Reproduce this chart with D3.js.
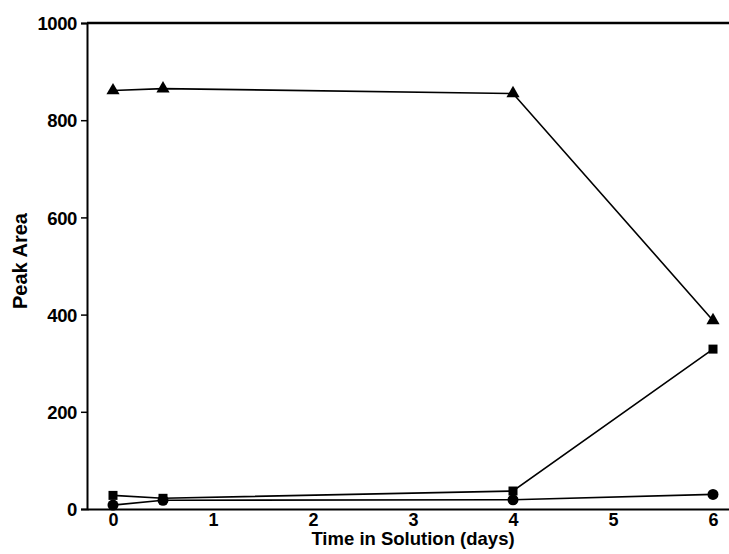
<!DOCTYPE html>
<html>
<head>
<meta charset="utf-8">
<script src="https://cdn.jsdelivr.net/npm/d3@7"></script>
<style>
  body { margin: 0; background: #fff; }
  text { font-family: "Liberation Sans", Arial, sans-serif; font-weight: bold; fill: #000; }
</style>
</head>
<body>
<div id="chart"></div>
<script>
// data
const days = [0, 0.5, 4, 6];
const triangleVals = [861, 865, 855, 388];
const squareVals = [28, 22, 37, 329];
const circleVals = [8, 18, 19, 30];

const xTicks = [0, 1, 2, 3, 4, 5, 6];
const yTicks = [0, 200, 400, 600, 800, 1000];

const w = 729;
const h = 554;
const plotLeft = 87, plotRight = 729, plotTop = 23, plotBottom = 509;

const svg = d3.select("#chart")
  .append("svg")
  .attr("width", w)
  .attr("height", h);

const x = d3.scaleLinear().domain([-0.26, 6.16]).range([plotLeft, plotRight]);
const y = d3.scaleLinear().domain([0, 1000]).range([plotBottom, plotTop]);

// y axis
const yAxis = svg.append("g")
  .attr("transform", "translate(" + plotLeft + ",0)")
  .call(d3.axisLeft(y).tickValues(yTicks).tickSize(6).tickPadding(4).tickFormat(d3.format("d")));
yAxis.selectAll("text").style("font-size", "18.5px").attr("letter-spacing", "-0.4").attr("dy", "0.36em");
yAxis.selectAll("line").attr("stroke-width", 1.5);
yAxis.select(".domain").attr("stroke-width", 2);

// x axis
const xAxis = svg.append("g")
  .attr("transform", "translate(0," + plotBottom + ")")
  .call(d3.axisBottom(x).tickValues(xTicks).tickSize(0).tickPadding(4).tickFormat(d3.format("d")));
xAxis.selectAll("text").style("font-size", "18px");
xAxis.select(".domain").attr("stroke-width", 2);

// top border
svg.append("line")
  .attr("x1", plotLeft).attr("x2", plotRight)
  .attr("y1", y(1000)).attr("y2", y(1000))
  .attr("stroke", "#000").attr("stroke-width", 2.5);

// axis titles
svg.append("text")
  .attr("x", x(3))
  .attr("y", 545)
  .attr("text-anchor", "middle")
  .style("font-size", "18.5px")
  .text("Time in Solution (days)");

svg.append("text")
  .attr("transform", "translate(27," + 261 + ") rotate(-90)")
  .attr("text-anchor", "middle")
  .style("font-size", "20px")
  .text("Peak Area");

const line = d3.line()
  .x((d, i) => x(days[i]))
  .y(d => y(d));

const series = [triangleVals, squareVals, circleVals];
series.forEach(vals => {
  svg.append("path")
    .datum(vals)
    .attr("d", line)
    .attr("fill", "none")
    .attr("stroke", "#000")
    .attr("stroke-width", 1.6);
});

// markers
svg.selectAll(".tri")
  .data(triangleVals)
  .enter()
  .append("path")
  .attr("transform", (d, i) => "translate(" + x(days[i]) + "," + y(d) + ")")
  .attr("d", d3.symbol().type(d3.symbolTriangle).size(75))
  .attr("fill", "#000");

svg.selectAll(".sq")
  .data(squareVals)
  .enter()
  .append("rect")
  .attr("x", (d, i) => x(days[i]) - 4.5)
  .attr("y", d => y(d) - 4.5)
  .attr("width", 9)
  .attr("height", 9)
  .attr("fill", "#000");

svg.selectAll(".circ")
  .data(circleVals)
  .enter()
  .append("circle")
  .attr("cx", (d, i) => x(days[i]))
  .attr("cy", d => y(d))
  .attr("r", 5.5)
  .attr("fill", "#000");
</script>
</body>
</html>
